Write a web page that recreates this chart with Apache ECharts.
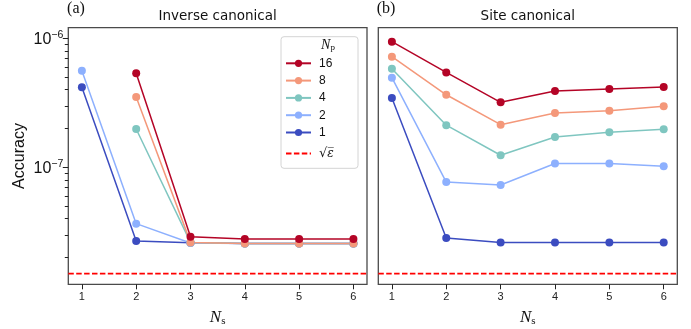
<!DOCTYPE html>
<html><head><meta charset="utf-8">
<script src="https://cdn.jsdelivr.net/npm/echarts@6/dist/echarts.min.js"></script>
<style>html,body{margin:0;padding:0;background:#fff}#c{width:691px;height:329px}</style>
</head><body><div id="c"></div>
<script>
// ---- data ----
const Ns = [1, 2, 3, 4, 5, 6];
const npLabels = ['16', '8', '4', '2', '1'];
const npColors = ['#b40426', '#f4987a', '#7fc6c0', '#8db0fe', '#3b4cc0'];
// (a) Inverse canonical
const inv16 = [null, 5.36e-7, 2.90e-8, 2.78e-8, 2.78e-8, 2.78e-8];
const inv8  = [null, 3.51e-7, 2.62e-8, 2.57e-8, 2.57e-8, 2.57e-8];
const inv4  = [null, 1.98e-7, 2.62e-8, 2.57e-8, 2.57e-8, 2.57e-8];
const inv2  = [5.61e-7, 3.66e-8, 2.59e-8, 2.57e-8, 2.57e-8, 2.57e-8];
const inv1  = [4.17e-7, 2.68e-8, 2.60e-8, 2.57e-8, 2.57e-8, 2.57e-8];
// (b) Site canonical
const site16 = [9.42e-7, 5.44e-7, 3.19e-7, 3.90e-7, 4.05e-7, 4.19e-7];
const site8  = [7.20e-7, 3.65e-7, 2.14e-7, 2.64e-7, 2.75e-7, 2.97e-7];
const site4  = [5.81e-7, 2.12e-7, 1.24e-7, 1.72e-7, 1.87e-7, 1.97e-7];
const site2  = [4.95e-7, 7.69e-8, 7.29e-8, 1.07e-7, 1.07e-7, 1.02e-7];
const site1  = [3.44e-7, 2.83e-8, 2.62e-8, 2.61e-8, 2.61e-8, 2.61e-8];
const sqrtEps = 1.5e-8;
const xTicks = [1, 2, 3, 4, 5, 6];
const yMajorTicks = [1e-7, 1e-6];
const yMinorTicks = [2e-8, 3e-8, 4e-8, 5e-8, 6e-8, 7e-8, 8e-8, 9e-8,
                     2e-7, 3e-7, 4e-7, 5e-7, 6e-7, 7e-7, 8e-7, 9e-7];
const panelTitles = ['Inverse canonical', 'Site canonical'];
const panelTags = ['(a)', '(b)'];
const xMin = 0.75, xMax = 6.25;
const yMin = 1.24e-8, yMax = 1.208e-6;

// ---- build ----
const panels = [
  {'16': inv16, '8': inv8, '4': inv4, '2': inv2, '1': inv1},
  {'16': site16, '8': site8, '4': site4, '2': site2, '1': site1}
];
const grids = [
  {left: 68.3, top: 27.7, width: 298.7, height: 256.6},
  {left: 378.3, top: 27.7, width: 299, height: 256.6}
];
const frame = {show: true, borderColor: '#4a4a4a', borderWidth: 1.3, backgroundColor: 'transparent',
               containLabel: false, outerBoundsMode: 'none'};
const tickColor = '#222';
const sans = 'Liberation Sans';

const xAxes = grids.map((g, i) => ({
  type: 'value', gridIndex: i, min: xMin, max: xMax,
  splitLine: {show: false}, axisLine: {show: false},
  axisTick: {show: true, length: 5, lineStyle: {color: tickColor, width: 1}, customValues: xTicks},
  axisLabel: {customValues: xTicks, margin: 7, fontFamily: sans, fontSize: 11, color: '#222'},
  name: '{n|N}{s|s}', nameLocation: 'middle', nameGap: 24,
  nameTextStyle: {rich: {
    n: {fontFamily: 'Liberation Serif', fontStyle: 'italic', fontSize: 17, color: '#111', verticalAlign: 'bottom', lineHeight: 18},
    s: {fontFamily: 'Liberation Serif', fontSize: 11, color: '#111', verticalAlign: 'bottom', lineHeight: 14}
  }}
}));

function expLabel(v) {
  const e = Math.round(Math.log10(v));
  return '{b|10}{s|' + (e < 0 ? '\u2212' : '') + Math.abs(e) + '}';
}
const yAxes = [
  {
    type: 'log', logBase: 10, gridIndex: 0, position: 'left', min: yMin, max: yMax,
    splitLine: {show: false}, axisLine: {show: false},
    axisTick: {show: true, length: 5.5, lineStyle: {color: tickColor, width: 1}, customValues: yMajorTicks},
    axisLabel: {customValues: yMajorTicks, margin: 5, formatter: expLabel, color: '#111',
      rich: {
        b: {fontFamily: sans, fontSize: 16, color: '#111', verticalAlign: 'bottom', lineHeight: 18},
        s: {fontFamily: sans, fontSize: 10.5, color: '#111', verticalAlign: 'top', lineHeight: 10}
      }},
    name: 'Accuracy', nameLocation: 'middle', nameGap: 41,
    nameTextStyle: {fontFamily: sans, fontSize: 16, color: '#111'}
  },
  {
    // minor ticks on the left edge of panel (a), pointing outward
    type: 'log', logBase: 10, gridIndex: 0, position: 'right', offset: -298.7, min: yMin, max: yMax,
    splitLine: {show: false}, axisLine: {show: false}, axisLabel: {show: false},
    axisTick: {show: true, inside: true, length: 3.5, lineStyle: {color: tickColor, width: 1}, customValues: yMinorTicks}
  },
  {
    type: 'log', logBase: 10, gridIndex: 1, position: 'left', min: yMin, max: yMax,
    splitLine: {show: false}, axisLine: {show: false}, axisLabel: {show: false}, axisTick: {show: false}
  }
];

const series = [];
const drawOrder = ['1', '2', '4', '8', '16'];
panels.forEach((p, pi) => {
  const yIdx = pi === 0 ? 0 : 2;
  series.push({
    name: 'sqrt_eps', type: 'line', xAxisIndex: pi, yAxisIndex: yIdx,
    data: [[xMin, sqrtEps], [xMax, sqrtEps]], symbol: 'none', silent: true,
    lineStyle: {color: '#ff0000', width: 1.7, type: [5.5, 2.4]},
    itemStyle: {color: '#ff0000'}, z: 1
  });
  drawOrder.forEach(k => {
    const col = npColors[npLabels.indexOf(k)];
    const vals = p[k];
    const data = [];
    Ns.forEach((n, j) => { if (vals[j] != null) data.push([n, vals[j]]); });
    series.push({
      name: k, type: 'line', xAxisIndex: pi, yAxisIndex: yIdx, data: data,
      symbol: 'circle', symbolSize: 8, showAllSymbol: true,
      lineStyle: {color: col, width: 1.5}, itemStyle: {color: col},
      emphasis: {disabled: true}, z: 2
    });
  });
});

const graphics = [
  {type: 'rect', shape: {x: 281, y: 36.7, width: 77, height: 131.6, r: 3},
   style: {fill: 'rgba(255,255,255,0.85)', stroke: '#d4d4d4', lineWidth: 1}, z: 3},
  {type: 'text', x: 328, y: 45, z: 5, style: {
    text: '{n|N}{s|p}', textAlign: 'center', textVerticalAlign: 'middle',
    rich: {
      n: {fontFamily: 'Liberation Serif', fontStyle: 'italic', fontSize: 14, fill: '#111', verticalAlign: 'bottom', lineHeight: 15},
      s: {fontFamily: 'Liberation Serif', fontSize: 9, fill: '#111', verticalAlign: 'bottom', lineHeight: 11}
    }}}
];
grids.forEach((g, i) => {
  graphics.push({type: 'text', x: g.left + g.width / 2, y: 16, style: {
    text: panelTitles[i], textAlign: 'center', textVerticalAlign: 'middle',
    font: '13.5px "DejaVu Sans"', fill: '#111'}});
  graphics.push({type: 'text', x: i === 0 ? 76 : 386, y: 9, style: {
    text: panelTags[i], textAlign: 'center', textVerticalAlign: 'middle',
    font: '16px "Liberation Serif"', fill: '#111'}});
});

const chart = echarts.init(document.getElementById('c'), null, {renderer: 'canvas'});
chart.setOption({
  animation: false,
  backgroundColor: '#fff',
  grid: grids.map(g => Object.assign({}, g, frame)),
  xAxis: xAxes,
  yAxis: yAxes,
  legend: [
    {data: npLabels, orient: 'vertical', left: 285, top: 56.3, padding: 0,
     itemWidth: 25, itemHeight: 9, itemGap: 3.3, selectedMode: false, z: 6,
     textStyle: {fontFamily: sans, fontSize: 12, color: '#111', lineHeight: 14, padding: [0, 0, 0, 3]}},
    {data: [{name: 'sqrt_eps', itemStyle: {opacity: 0}}], orient: 'vertical', left: 285, top: 147, padding: 0,
     itemWidth: 25, itemHeight: 9, selectedMode: false, z: 6,
     formatter: () => '{r|\u221A}{e|\u03B5\u0305}',
     textStyle: {padding: [0, 0, 0, 3], rich: {
       r: {fontFamily: 'DejaVu Sans', fontSize: 13, color: '#111'},
       e: {fontFamily: 'DejaVu Serif', fontStyle: 'italic', fontSize: 12, color: '#111'}
     }}}
  ],
  graphic: graphics,
  series: series
});
</script>
</body></html>
